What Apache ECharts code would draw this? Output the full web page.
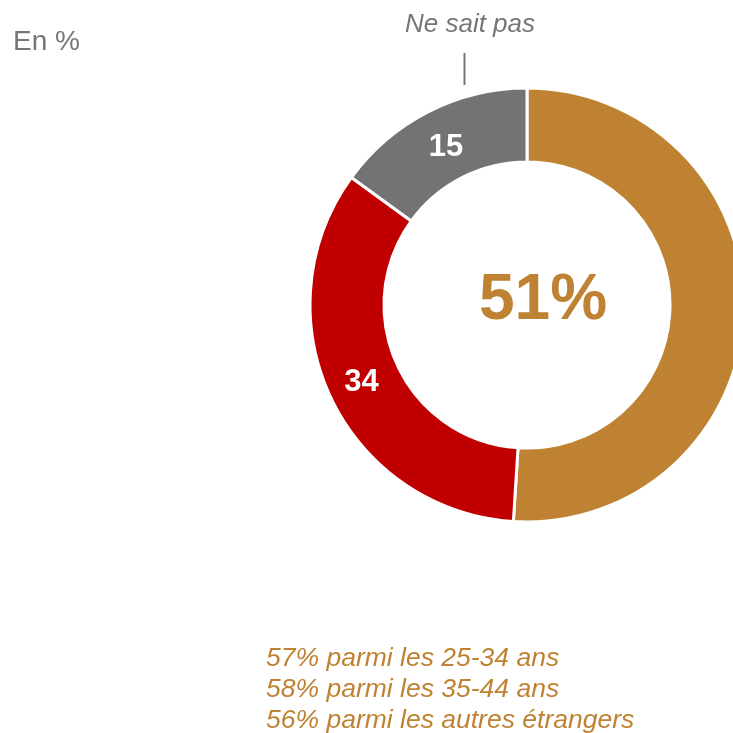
<!DOCTYPE html>
<html>
<head>
<meta charset="utf-8">
<script src="https://cdn.jsdelivr.net/npm/echarts@6/dist/echarts.min.js"></script>
<style>
  html, body { margin: 0; padding: 0; background: #fff; }
  #chart { width: 733px; height: 733px; }
</style>
</head>
<body>
<div id="chart"></div>
<script>
// Survey answers, in percent
const categories = ['Oui', 'Non', 'Ne sait pas'];
const values = [51, 34, 15];
const colors = ['#BF8232', '#C00000', '#737373'];
const subgroupNotes = [
  '57% parmi les 25-34 ans',
  '58% parmi les 35-44 ans',
  '56% parmi les autres étrangers'
];

const FONT = '"Liberation Sans", Arial, sans-serif';
const cx = 527, cy = 305;

const chart = echarts.init(document.getElementById('chart'), null, { renderer: 'canvas' });

// per-slice label tweaks: the main answer is written large in the hole instead
const sliceLabels = [
  { show: false },
  {},
  { offset: [2, 6] }
];

chart.setOption({
  animation: false,
  backgroundColor: '#fff',
  series: [{
    type: 'pie',
    center: [cx, cy],
    radius: [143, 217],
    startAngle: 90,
    clockwise: true,
    avoidLabelOverlap: false,
    itemStyle: { borderColor: '#fff', borderWidth: 3 },
    label: {
      show: true,
      position: 'inside',
      formatter: '{c}',
      color: '#fff',
      fontFamily: FONT,
      fontSize: 31,
      fontWeight: 'bold'
    },
    labelLine: { show: false },
    data: categories.map((name, i) => ({
      name: name,
      value: values[i],
      itemStyle: { color: colors[i] },
      label: sliceLabels[i]
    }))
  }],
  graphic: [
    {
      type: 'text', x: 13, y: 42,
      style: { text: 'En %', fill: '#767676', font: '28px ' + FONT, textVerticalAlign: 'middle' }
    },
    {
      type: 'text', x: 543, y: 301,
      style: {
        text: values[0] + '%', fill: colors[0],
        font: 'bold 64px ' + FONT, textAlign: 'center', textVerticalAlign: 'middle'
      }
    },
    {
      type: 'text', x: 470, y: 25,
      style: {
        text: categories[2], fill: '#767676',
        font: 'italic 26px ' + FONT, textAlign: 'center', textVerticalAlign: 'middle'
      }
    },
    {
      type: 'line',
      shape: { x1: 464.5, y1: 53, x2: 464.5, y2: 85 },
      style: { stroke: '#767676', lineWidth: 2 }
    },
    {
      type: 'text', x: 266, y: 643.5,
      style: {
        text: subgroupNotes.join('\n'), fill: colors[0],
        font: 'italic 26.5px ' + FONT, lineHeight: 31, textVerticalAlign: 'top'
      }
    }
  ]
});
</script>
</body>
</html>
